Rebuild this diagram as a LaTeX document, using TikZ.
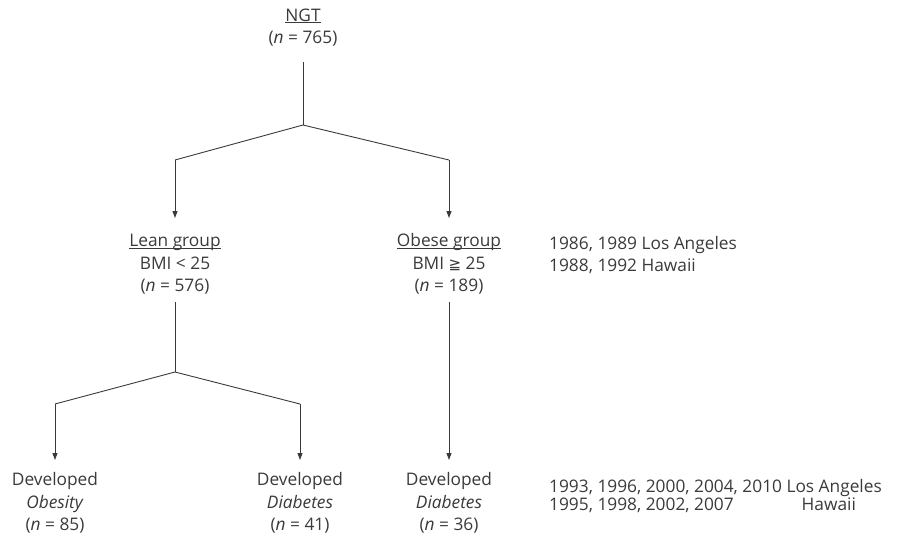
\documentclass[tikz,border=0pt]{standalone}
\usepackage{fontspec}
\setmainfont{Open Sans}
\newfontfamily\symfont{DejaVu Sans}
\usetikzlibrary{arrows.meta}
\definecolor{ink}{HTML}{3A3A3A}
\newcommand\myul[1]{\underline{\smash{#1}\vphantom{a}}}
\begin{document}
\begin{tikzpicture}[x=1pt,y=-1pt,
  lbl/.style={inner sep=0pt,align=center,text=ink,font=\fontsize{17.3}{22.5}\selectfont},
  side/.style={inner sep=0pt,align=left,anchor=west,text=ink,font=\fontsize{17.3}{21.5}\selectfont},
  conn/.style={draw=ink,line width=0.9pt},
  arr/.style={conn,-{Triangle[length=7pt,width=5pt]}}]
\useasboundingbox (0,0) rectangle (898,542);
\node[lbl] (ngt) at (303,29) {\myul{NGT}\\(\textit{n} = 765)};
\node[lbl] (lean) at (175,266) {\myul{Lean group}\\BMI < 25\\(\textit{n} = 576)};
\node[lbl] (obese) at (449,266) {\myul{Obese group}\\BMI {\symfont\fontsize{15}{15}\selectfont ≧} 25\\(\textit{n} = 189)};
\node[side] (yr1) at (549,255) {1986, 1989 Los Angeles\\1988, 1992 Hawaii};
\node[lbl] (dob) at (55,503) {Developed\\\textit{Obesity}\\(\textit{n} = 85)};
\node[lbl] (dd1) at (300,503) {Developed\\\textit{Diabetes}\\(\textit{n} = 41)};
\node[lbl] (dd2) at (449,503) {Developed\\\textit{Diabetes}\\(\textit{n} = 36)};
\node[side,font=\fontsize{17.3}{18}\selectfont] (yr2) at (549,496) {1993, 1996, 2000, 2004, 2010 Los Angeles\\1995, 1998, 2002, 2007\hspace{68pt}Hawaii};
\coordinate (b1) at (303,125);
\coordinate (l1) at (175,160);
\coordinate (r1) at (449,160);
\coordinate (b2) at (175,372);
\coordinate (l2) at (55,404);
\coordinate (r2) at (300,404);
\draw[conn] (303,62) -- (b1);
\draw[conn] (l1) -- (b1) -- (r1);
\draw[arr] (l1) -- (175,218);
\draw[arr] (r1) -- (449,218);
\draw[conn] (175,302) -- (b2);
\draw[conn] (l2) -- (b2) -- (r2);
\draw[arr] (l2) -- (55,460);
\draw[arr] (r2) -- (300,460);
\draw[arr] (449,302) -- (449,460);
\end{tikzpicture}
\end{document}
